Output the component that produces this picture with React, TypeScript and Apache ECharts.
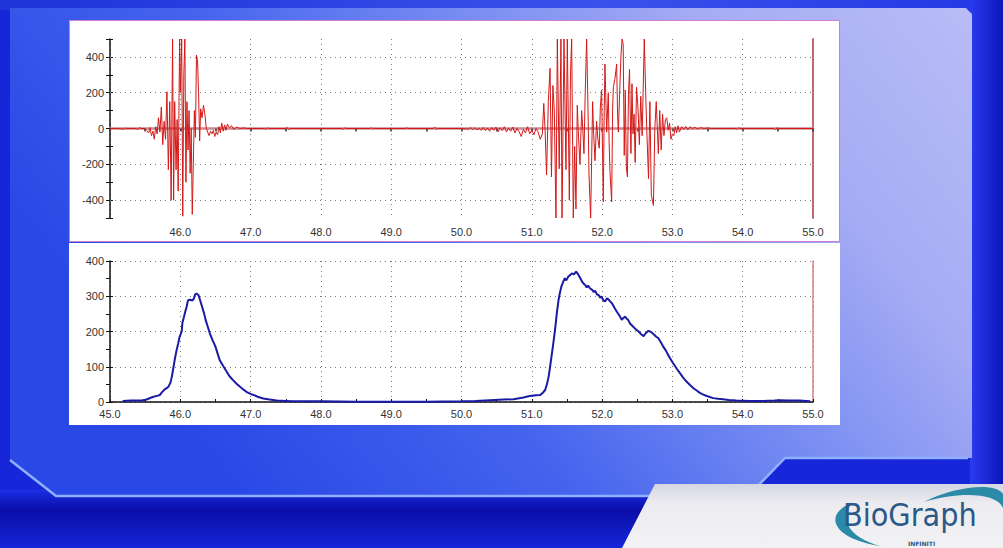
import React, { useEffect, useRef } from "react";
import * as echarts from "echarts";

// ---------- data ----------
const X_MIN = 45;
const X_MAX = 55;
const EMG_MIN = -500;
const EMG_MAX = 500;
const ENV_MIN = 0;
const ENV_MAX = 400;
const EMG_GRID_LINES = [400, 200, -200, -400];

// raw EMG signal [time s, µV]
const EMG_PRE: [number, number][] = [
  [45.0, 0], [45.1, 0], [45.2, -3], [45.22, 2], [45.24, 0], [45.35, 0], [45.4, -4], [45.42, 6], [45.44, 0], [45.5, 0],
];
const EMG_BURST1: [number, number][] = [
  [45.52, -10], [45.55, -25], [45.57, 5], [45.59, -40], [45.61, -15], [45.63, -60], [45.65, 10], [45.67, -30],
  [45.69, 60], [45.71, -20], [45.73, 120], [45.75, -90], [45.77, 40], [45.79, -60], [45.81, 205], [45.83, -230],
  [45.85, 150], [45.87, -400], [45.89, 500], [45.905, -400], [45.92, 150], [45.94, -230], [45.955, 50],
  [45.97, -350], [45.99, 500], [46.0, 200], [46.02, 500], [46.035, -490], [46.05, 300], [46.065, 500],
  [46.08, -300], [46.095, 150], [46.11, -120], [46.125, 100], [46.14, -250], [46.155, 0], [46.17, -480],
  [46.185, -200], [46.2, 100], [46.215, -50], [46.23, 410], [46.245, 380], [46.26, 200], [46.275, -70],
  [46.29, 110], [46.31, 60], [46.33, 130], [46.35, 80], [46.37, 0], [46.39, -20], [46.41, -40], [46.43, -15],
  [46.45, -30], [46.47, -10], [46.49, -45], [46.51, -20], [46.53, -35], [46.55, 10], [46.57, -25], [46.59, 30],
  [46.61, -15], [46.63, 20], [46.65, -10], [46.67, 25], [46.7, 5], [46.73, 15], [46.76, -5], [46.8, 8],
  [46.85, 0], [46.9, 3],
];
const EMG_MID: [number, number][] = [
  [46.95, 0], [47.2, 0], [47.22, -4], [47.24, 3], [47.26, 0], [47.5, 0], [47.52, 6], [47.54, -6], [47.56, 0],
  [47.9, 0], [48.3, 0], [48.32, -5], [48.34, 4], [48.36, 0], [48.7, 0], [48.72, 4], [48.74, -3], [48.76, 0],
  [49.2, 0], [49.22, 3], [49.24, 0], [49.6, 0], [49.62, 8], [49.64, -4], [49.66, 0], [50.0, 0],
  [50.1, -3], [50.13, 5], [50.16, -6], [50.19, 4], [50.22, -8], [50.25, 2], [50.28, -10], [50.31, 6],
  [50.34, -12], [50.37, 3], [50.4, -15], [50.43, 5], [50.46, -10], [50.49, 8], [50.52, -18], [50.55, 4],
  [50.58, -12], [50.61, 10], [50.64, -20], [50.67, 2], [50.7, -15], [50.73, 8], [50.76, -25], [50.79, 0],
  [50.82, -18], [50.85, -45], [50.88, -5], [50.91, -25], [50.94, 10], [50.97, -30], [51.0, -10], [51.03, -35],
  [51.06, 0], [51.09, -20], [51.12, -60], [51.15, -30],
];
const EMG_BURST2: [number, number][] = [
  [51.17, 140], [51.19, -20], [51.21, -260], [51.235, 150], [51.26, 336], [51.28, -270], [51.3, 240],
  [51.32, 100], [51.344, -500], [51.363, 500], [51.39, -225], [51.415, 500], [51.43, -500], [51.458, 500],
  [51.486, -230], [51.505, 500], [51.534, -400], [51.55, 300], [51.567, 500], [51.59, -500], [51.61, -100],
  [51.628, -450], [51.647, 130], [51.665, -50], [51.685, -200], [51.709, 100], [51.725, 0], [51.742, -140],
  [51.76, 200], [51.78, 500], [51.8, 100], [51.813, -250], [51.837, -500], [51.865, 150], [51.88, -30],
  [51.899, -180], [51.922, 40], [51.94, -60], [51.96, -110], [51.975, 120], [51.993, 215], [52.017, -410],
  [52.03, 100], [52.041, 360], [52.065, -20], [52.088, 200], [52.1, -80], [52.112, -240], [52.136, -410],
  [52.15, 120], [52.16, 230], [52.183, 280], [52.207, 360], [52.22, 80], [52.231, -20], [52.254, 250],
  [52.27, 420], [52.285, 500], [52.3, 470], [52.315, -150], [52.33, 215], [52.345, -215], [52.36, -270],
  [52.375, 190], [52.39, 330], [52.41, -140], [52.425, 250], [52.44, -30], [52.455, 80], [52.47, -190],
  [52.49, 230], [52.51, 120], [52.53, -90], [52.55, 180], [52.57, -40], [52.585, 230], [52.6, 500],
  [52.62, 200], [52.635, 0], [52.66, -280], [52.68, 150], [52.7, -370], [52.73, -430], [52.75, 0],
  [52.77, 150], [52.8, -140], [52.82, 100], [52.84, -120], [52.86, 80], [52.88, -40], [52.9, 50], [52.92, 60],
  [52.94, -10], [52.96, 30], [52.98, -60], [53.0, -30], [53.02, -40], [53.04, 10], [53.06, -25], [53.08, 15],
  [53.1, -20], [53.13, 10], [53.16, -5], [53.19, 12], [53.22, -8], [53.25, 10], [53.28, 0], [53.32, 6],
  [53.36, -3], [53.4, 5], [53.45, 0], [53.5, 3], [53.55, 0],
];
const EMG_POST: [number, number][] = [
  [53.6, 0], [53.9, 0], [53.92, -5], [53.94, 4], [53.96, 0], [54.3, 0], [54.45, 0], [54.47, -6], [54.49, 5],
  [54.51, 0], [55.0, 0],
];

// RMS envelope [time s, µV]
const ENV_BURST1: [number, number][] = [
  [45.18, 3], [45.3, 4], [45.45, 4], [45.52, 7], [45.58, 12], [45.62, 15], [45.68, 18], [45.71, 20], [45.74, 28],
  [45.78, 36], [45.83, 43], [45.86, 55], [45.88, 72], [45.9, 95], [45.92, 119], [45.945, 145], [45.97, 166],
  [45.99, 185], [46.02, 200], [46.03, 225], [46.05, 240], [46.07, 256], [46.09, 270], [46.11, 289], [46.14, 290],
  [46.17, 288], [46.19, 292], [46.21, 305], [46.23, 308], [46.26, 303], [46.28, 290], [46.31, 270], [46.34, 250],
  [46.36, 233], [46.39, 214], [46.42, 195], [46.46, 175], [46.5, 157], [46.53, 138], [46.56, 119], [46.61, 102],
  [46.66, 86], [46.7, 73], [46.75, 62], [46.8, 52], [46.85, 43], [46.9, 35], [46.94, 29], [47.0, 23], [47.04, 20],
  [47.1, 15], [47.18, 10], [47.27, 7], [47.37, 4], [47.5, 3], [47.61, 2],
];
const ENV_MID: [number, number][] = [
  [48.0, 2], [48.5, 1], [49.0, 1], [49.5, 1], [50.0, 2], [50.2, 3], [50.4, 5], [50.6, 7], [50.74, 8], [50.88, 13],
  [50.97, 17], [51.06, 19], [51.12, 20],
];
const ENV_BURST2: [number, number][] = [
  [51.16, 27], [51.19, 34], [51.215, 50], [51.24, 72], [51.26, 100], [51.28, 129], [51.305, 165], [51.33, 204],
  [51.355, 250], [51.38, 289], [51.4, 310], [51.42, 327], [51.445, 340], [51.47, 351], [51.49, 345], [51.52, 356],
  [51.545, 360], [51.57, 365], [51.6, 362], [51.63, 370], [51.66, 362], [51.69, 351], [51.72, 340], [51.74, 335],
  [51.76, 332], [51.78, 325], [51.8, 330], [51.83, 322], [51.86, 318], [51.88, 312], [51.9, 316], [51.93, 304],
  [51.95, 304], [51.97, 296], [51.99, 299], [52.02, 288], [52.04, 285], [52.07, 294], [52.09, 291], [52.12, 284],
  [52.14, 280], [52.18, 266], [52.21, 256], [52.25, 244], [52.28, 233], [52.3, 238], [52.33, 242], [52.35, 236],
  [52.37, 233], [52.4, 222], [52.44, 214], [52.48, 206], [52.52, 200], [52.55, 193], [52.59, 187], [52.62, 195],
  [52.66, 202], [52.7, 198], [52.73, 193], [52.77, 185], [52.8, 181], [52.84, 168], [52.87, 157], [52.91, 145],
  [52.94, 133], [52.98, 120], [53.01, 110], [53.06, 95], [53.11, 81], [53.15, 70], [53.2, 58], [53.25, 48],
  [53.3, 39], [53.35, 32], [53.39, 26], [53.44, 21], [53.49, 17], [53.58, 11], [53.65, 9], [53.72, 8], [53.8, 6],
  [53.91, 4], [54.1, 3], [54.29, 3], [54.45, 4], [54.53, 5], [54.65, 4], [54.81, 4], [54.9, 3], [54.96, 2],
];

// ---------- logo shapes ----------
echarts.graphic.registerShape(
  "logoCrescent",
  echarts.graphic.extendPath("M852,503 C826,512 826,538 884,547 C852,539 838,522 852,503 Z", {})
);
echarts.graphic.registerShape(
  "logoSwoosh",
  echarts.graphic.extendPath("M924,502 C955,486 996,482 1003,494 L1003,508 C996,492 958,492 924,502 Z", {})
);

const LABEL_FONT = {
  fontFamily: "Liberation Sans, Arial, sans-serif",
  fontSize: 11,
  color: "#333",
};
const DOT_LINE = { color: "#7a7a7a", type: [1, 4] as any, width: 1 };

export default function App() {
  const ref = useRef<HTMLDivElement>(null);

  useEffect(() => {
    if (!ref.current) return;
    const chart = echarts.init(ref.current, undefined, { renderer: "svg" });

    const emg = [...EMG_PRE, ...EMG_BURST1, ...EMG_MID, ...EMG_BURST2, ...EMG_POST];
    const env = [...ENV_BURST1, ...ENV_MID, ...ENV_BURST2];

    const bg: any[] = [
      // top strip
      {
        type: "rect", z: -20, shape: { x: 0, y: 0, width: 1003, height: 10 },
        style: { fill: { type: "linear", x: 0, y: 0, x2: 1, y2: 0, colorStops: [
          { offset: 0, color: "#1c34d8" }, { offset: 0.6, color: "#3a52ec" }, { offset: 1, color: "#2238e4" }] } },
      },
      // right strip
      {
        type: "rect", z: -20, shape: { x: 970, y: 0, width: 33, height: 500 },
        style: { fill: { type: "linear", x: 0, y: 0, x2: 1, y2: 0, colorStops: [
          { offset: 0, color: "#2a3cf0" }, { offset: 1, color: "#0c16b8" }] } },
      },
      // lower dark band
      {
        type: "rect", z: -20, shape: { x: 0, y: 490, width: 1003, height: 58 },
        style: { fill: { type: "linear", x: 0, y: 0, x2: 0, y2: 1, colorStops: [
          { offset: 0, color: "#1a2ee4" }, { offset: 0.35, color: "#0a0ea8" }, { offset: 1, color: "#1626d8" }] } },
      },
      // main light panel
      {
        type: "polygon", z: -19,
        shape: { points: [[10, 8], [966, 8], [972, 14], [972, 458], [785, 458], [748, 496], [56, 496], [10, 460]] },
        style: { fill: { type: "linear", x: 0, y: 0.4, x2: 1, y2: 0, colorStops: [
          { offset: 0, color: "#2a48e6" }, { offset: 0.3, color: "#4464ee" }, { offset: 0.55, color: "#7a8ef2" },
          { offset: 0.75, color: "#a6acf4" }, { offset: 1, color: "#b8bcf6" }] } },
      },
      // panel highlight edge
      {
        type: "polyline", z: -18,
        shape: { points: [[10, 460], [56, 496], [748, 496], [785, 458], [968, 458]] },
        style: { stroke: "#8fb0ff", lineWidth: 2.5, fill: null },
      },
      // logo plate
      {
        type: "polygon", z: -17,
        shape: { points: [[622, 548], [655, 484], [1003, 484], [1003, 548]] },
        style: { fill: { type: "linear", x: 0, y: 0, x2: 0, y2: 1, colorStops: [
          { offset: 0, color: "#d4d6e2" }, { offset: 0.3, color: "#ececf0" }, { offset: 1, color: "#f2f2f4" }] } },
      },
      // white chart panels
      {
        type: "rect", z: -15, shape: { x: 69, y: 243, width: 771, height: 182 },
        style: { fill: "#ffffff" },
      },
      {
        type: "rect", z: -15, shape: { x: 69.5, y: 20.5, width: 770, height: 221 },
        style: { fill: "#ffffff", stroke: "#cf7fcf", lineWidth: 1 },
      },
      // logo
      { type: "logoCrescent", z: -10, x: 0, y: 0, style: { fill: "#2a8aa8" } },
      { type: "logoSwoosh", z: -10, x: 0, y: 0, style: { fill: "#2a8aa8" } },
      {
        type: "text", z: -10, x: 843, y: 515,
        style: { text: "BioGraph", fill: "#2a5888", font: "32px 'DejaVu Sans Condensed', 'DejaVu Sans', sans-serif", verticalAlign: "middle", align: "left" },
      },
      {
        type: "text", z: -10, x: 908, y: 543,
        style: { text: "INFINITI", fill: "#2a5888", font: "bold 6px 'DejaVu Sans', sans-serif", verticalAlign: "middle", align: "left" },
      },
    ];

    const option: any = {
      animation: false,
      backgroundColor: "#1626d8",
      graphic: { elements: bg },
      grid: [
        { left: 110, top: 39, width: 703, height: 179 },
        { left: 110, top: 261, width: 703, height: 141 },
      ],
      xAxis: [
        {
          gridIndex: 0, type: "value", min: X_MIN, max: X_MAX, interval: 1, position: "bottom",
          axisLine: { show: false, onZero: false }, axisTick: { show: false },
          axisLabel: { ...LABEL_FONT, margin: 8, formatter: (v: number) => (v === X_MIN ? "" : v.toFixed(1)) },
          splitLine: { show: true, lineStyle: DOT_LINE },
        },
        {
          gridIndex: 0, type: "value", min: X_MIN, max: X_MAX, interval: 0.5, position: "bottom",
          axisLine: { show: true, onZero: true, onZeroAxisIndex: 0, lineStyle: { color: "#c88a90", width: 2.5 } },
          axisTick: { show: true, inside: false, length: 3, lineStyle: { color: "#333", width: 1.5 } },
          axisLabel: { show: false }, splitLine: { show: false },
        },
        {
          gridIndex: 1, type: "value", min: X_MIN, max: X_MAX, interval: 1, position: "bottom",
          axisLine: { show: true, onZero: false, lineStyle: { color: "#111", width: 1.5 } },
          axisTick: { show: false },
          axisLabel: { ...LABEL_FONT, margin: 6, formatter: (v: number) => v.toFixed(1) },
          splitLine: { show: true, lineStyle: DOT_LINE },
        },
        {
          gridIndex: 1, type: "value", min: X_MIN, max: X_MAX, interval: 0.5, position: "bottom",
          axisLine: { show: false, onZero: false },
          axisTick: { show: true, inside: true, length: 3, lineStyle: { color: "#111" } },
          axisLabel: { show: false }, splitLine: { show: false },
        },
      ],
      yAxis: [
        {
          gridIndex: 0, type: "value", min: EMG_MIN, max: EMG_MAX, interval: 100, position: "left",
          axisLine: { show: true, onZero: false, lineStyle: { color: "#111", width: 1.5 } },
          axisTick: { show: true, length: 4, lineStyle: { color: "#111" } },
          axisLabel: {
            ...LABEL_FONT, margin: 6,
            formatter: (v: number) => (v % 200 === 0 && Math.abs(v) < 500 ? String(v) : ""),
          },
          splitLine: { show: false },
        },
        {
          gridIndex: 0, type: "value", min: EMG_MIN, max: EMG_MAX, interval: 100, position: "left",
          axisLine: { show: false, onZero: false },
          axisTick: { show: true, inside: true, length: 3, lineStyle: { color: "#111" } },
          axisLabel: { show: false }, splitLine: { show: false },
        },
        {
          gridIndex: 0, type: "value", min: EMG_MIN, max: EMG_MAX, position: "right",
          axisLine: { show: true, onZero: false, lineStyle: { color: "#c06a70", width: 2 } },
          axisTick: { show: false }, axisLabel: { show: false }, splitLine: { show: false },
        },
        {
          gridIndex: 1, type: "value", min: ENV_MIN, max: ENV_MAX, interval: 50, position: "left",
          axisLine: { show: true, onZero: false, lineStyle: { color: "#111", width: 1.5 } },
          axisTick: { show: true, length: 4, lineStyle: { color: "#111" } },
          axisLabel: { ...LABEL_FONT, margin: 6, formatter: (v: number) => (v % 100 === 0 ? String(v) : "") },
          splitLine: { show: false },
        },
        {
          gridIndex: 1, type: "value", min: ENV_MIN, max: ENV_MAX, interval: 100, position: "left",
          axisLine: { show: false, onZero: false },
          axisTick: { show: true, inside: true, length: 3, lineStyle: { color: "#111" } },
          axisLabel: { show: false },
          splitLine: { show: true, lineStyle: DOT_LINE },
        },
        {
          gridIndex: 1, type: "value", min: ENV_MIN, max: ENV_MAX, position: "right",
          axisLine: { show: true, onZero: false, lineStyle: { color: "#d08088", width: 1.5 } },
          axisTick: { show: false }, axisLabel: { show: false }, splitLine: { show: false },
        },
      ],
      series: [
        {
          type: "line", xAxisIndex: 0, yAxisIndex: 0, data: emg, showSymbol: false, symbol: "none",
          lineStyle: { color: "#d41818", width: 1 },
          markLine: {
            silent: true, symbol: "none", label: { show: false },
            lineStyle: DOT_LINE,
            data: EMG_GRID_LINES.map((v) => ({ yAxis: v })),
          },
          z: 3,
        },
        {
          type: "line", xAxisIndex: 2, yAxisIndex: 3, data: env, showSymbol: false, symbol: "none",
          lineStyle: { color: "#1a1aa6", width: 2 },
          z: 3,
        },
      ],
    };

    chart.setOption(option);
    return () => chart.dispose();
  }, []);

  return (
    <div
      ref={ref}
      style={{ position: "absolute", left: 0, top: 0, width: 1003, height: 548 }}
    />
  );
}
